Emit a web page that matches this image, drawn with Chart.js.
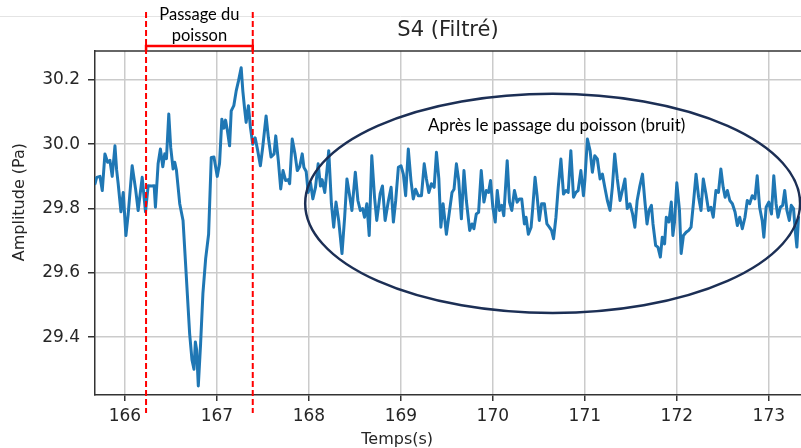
<!DOCTYPE html>
<html>
<head>
<meta charset="utf-8">
<script src="https://cdn.jsdelivr.net/npm/chart.js@4.4.1/dist/chart.umd.min.js"></script>
<style>
  html, body { margin: 0; padding: 0; background: #fff; }
  canvas { display: block; }
</style>
</head>
<body>
<canvas id="s4Chart" width="801" height="448"></canvas>
<script>
const temps = [
  165.675, 165.693, 165.729, 165.754, 165.783, 165.812, 165.837, 165.862, 165.892, 165.91,
  165.927, 165.957, 165.982, 166.011, 166.036, 166.079, 166.116, 166.144, 166.188, 166.224,
  166.253, 166.289, 166.318, 166.332, 166.361, 166.386, 166.412, 166.433, 166.452, 166.477,
  166.498, 166.524, 166.542, 166.56, 166.596, 166.632, 166.668, 166.704, 166.729, 166.751,
  166.766, 166.78, 166.798, 166.823, 166.848, 166.878, 166.91, 166.939, 166.968, 167.004,
  167.029, 167.054, 167.076, 167.094, 167.113, 167.138, 167.156, 167.184, 167.21, 167.235,
  167.264, 167.282, 167.3, 167.318, 167.343, 167.365, 167.39, 167.416, 167.444, 167.473,
  167.498, 167.535, 167.56, 167.589,
  167.622, 167.64, 167.668, 167.694, 167.719, 167.748, 167.776, 167.791, 167.819, 167.849,
  167.874, 167.9, 167.928, 167.946, 167.971, 167.992, 168.018, 168.043, 168.072, 168.101,
  168.126, 168.144, 168.173, 168.198, 168.216, 168.245, 168.27, 168.295, 168.324, 168.36,
  168.389, 168.414, 168.44, 168.468, 168.505, 168.533, 168.559, 168.584, 168.605, 168.63,
  168.656, 168.684, 168.714, 168.738, 168.775, 168.8, 168.829, 168.865, 168.894, 168.919,
  168.944, 168.973, 169.002, 169.027, 169.052, 169.081, 169.11, 169.135, 169.16, 169.189,
  169.224, 169.254, 169.278, 169.304, 169.332, 169.362, 169.387, 169.413, 169.435, 169.459,
  169.495,
  169.556, 169.578, 169.604, 169.629, 169.658, 169.686, 169.712, 169.748, 169.773, 169.794,
  169.82, 169.845, 169.874, 169.903, 169.929, 169.953, 169.975, 170.0, 170.026, 170.048,
  170.073, 170.097, 170.119, 170.156, 170.181, 170.206, 170.235, 170.264, 170.289, 170.314,
  170.343, 170.361, 170.386, 170.416, 170.433, 170.459, 170.481, 170.505, 170.53, 170.56,
  170.588, 170.614, 170.638, 170.66, 170.686, 170.711, 170.74, 170.768, 170.794, 170.819,
  170.848, 170.877, 170.903, 170.927, 170.957, 170.985, 171.0, 171.028, 171.057, 171.082,
  171.108, 171.136, 171.166, 171.191, 171.217, 171.245, 171.274, 171.299, 171.325, 171.353,
  171.383, 171.408,
  171.436, 171.461, 171.49, 171.519, 171.544, 171.569, 171.598, 171.627, 171.652, 171.676,
  171.698, 171.724, 171.741, 171.77, 171.795, 171.821, 171.842, 171.867, 171.886, 171.914,
  171.94, 171.957, 171.975, 172.0, 172.029, 172.047, 172.072, 172.101, 172.129, 172.155,
  172.18, 172.209, 172.237, 172.263, 172.288, 172.317, 172.345, 172.371, 172.396, 172.425,
  172.453, 172.479, 172.504, 172.525, 172.55, 172.576, 172.604, 172.633, 172.658, 172.684,
  172.712, 172.741, 172.766, 172.792, 172.82, 172.849, 172.874, 172.9, 172.928, 172.946,
  172.971, 173.0, 173.029, 173.054, 173.079, 173.1, 173.126, 173.151, 173.173, 173.197,
  173.223, 173.244, 173.269, 173.287, 173.305, 173.323
];
const amplitude = [
  29.877, 29.897, 29.90, 29.856, 29.97, 29.944, 29.95, 29.90, 29.995, 29.92,
  29.877, 29.79, 29.85, 29.716, 29.783, 29.933, 29.861, 29.794, 29.897, 29.79,
  29.871, 29.87, 29.871, 29.804, 29.939, 29.985, 29.93, 29.97, 29.955, 30.094,
  29.99, 29.923, 29.944, 29.92, 29.815, 29.763, 29.587, 29.41, 29.33, 29.30,
  29.385, 29.36, 29.248, 29.38, 29.535, 29.644, 29.72, 29.959, 29.96, 29.90,
  29.94, 30.078, 30.05, 30.075, 30.045, 29.995, 30.104, 30.12, 30.166, 30.197,
  30.238, 30.166, 30.114, 30.068, 30.12, 30.052, 30.0, 30.02, 29.98, 29.933,
  29.99, 30.088, 30.02, 29.96,
  29.97, 30.026, 29.949, 29.861, 29.918, 29.887, 29.89, 29.877, 30.016, 29.97,
  29.918, 29.93, 29.97, 29.928, 29.915, 29.85, 29.88, 29.83, 29.866, 29.939,
  29.87, 29.89, 29.85, 29.923, 29.98, 29.815, 29.742, 29.82, 29.763, 29.66,
  29.773, 29.892, 29.846, 29.794, 29.913, 29.825, 29.794, 29.80, 29.773, 29.815,
  29.716, 29.964, 29.835, 29.763, 29.846, 29.87, 29.763, 29.825, 29.866, 29.758,
  29.825, 29.928, 29.933, 29.907, 29.84, 29.985, 29.887, 29.83, 29.86, 29.84,
  29.84, 29.939, 29.892, 29.85, 29.877, 29.866, 29.975, 29.892, 29.742, 29.815,
  29.72,
  29.85, 29.86, 29.939, 29.887, 29.768, 29.918, 29.825, 29.732, 29.752, 29.737,
  29.783, 29.788, 29.918, 29.82, 29.856, 29.85, 29.887, 29.804, 29.758, 29.856,
  29.794, 29.81, 29.778, 29.949, 29.82, 29.794, 29.856, 29.82, 29.83, 29.83,
  29.752, 29.773, 29.72, 29.742, 29.8, 29.897, 29.84, 29.763, 29.815, 29.815,
  29.752, 29.742, 29.732, 29.706, 29.773, 29.866, 29.954, 29.845, 29.856, 29.85,
  29.98, 29.835, 29.85, 29.856, 29.918, 29.84, 29.887, 30.016, 29.98, 29.913,
  29.964, 29.954, 29.892, 29.907, 29.866, 29.825, 29.794, 29.866, 29.97, 29.892,
  29.825, 29.856,
  29.892, 29.8, 29.815, 29.783, 29.742, 29.825, 29.87, 29.907, 29.825, 29.752,
  29.794, 29.81, 29.752, 29.685, 29.68, 29.649, 29.711, 29.69, 29.773, 29.758,
  29.82, 29.716, 29.758, 29.88, 29.794, 29.66, 29.716, 29.726, 29.732, 29.742,
  29.815, 29.907, 29.835, 29.794, 29.892, 29.845, 29.794, 29.804, 29.773, 29.856,
  29.85, 29.923, 29.866, 29.835, 29.856, 29.825, 29.815, 29.789, 29.747, 29.773,
  29.737, 29.773, 29.825, 29.815, 29.84, 29.83, 29.902, 29.804, 29.763, 29.711,
  29.804, 29.82, 29.783, 29.902, 29.815, 29.773, 29.804, 29.81, 29.856, 29.794,
  29.763, 29.81, 29.8, 29.732, 29.68, 29.773
];
const xTicks = [166, 167, 168, 169, 170, 171, 172, 173];
const yTicks = [29.4, 29.6, 29.8, 30.0, 30.2];

// Zone du passage du poisson (s)
const passageDebut = 166.23;
const passageFin = 167.39;
// Zone de bruit : centre et demi-axes en unités du graphique
const bruitCentre = [170.65, 29.816];
const bruitRayons = [2.69, 0.341];

const tickFont = { family: "'DejaVu Sans', sans-serif", size: 17 };

// Annotations ajoutées par-dessus le graphique
const annotations = {
    id: 'annotations',
    afterDraw(chart) {
        const { ctx, chartArea: a, scales: { x, y } } = chart;
        ctx.save();

        // ligne grise du haut
        ctx.strokeStyle = '#e4e4e4';
        ctx.lineWidth = 1;
        ctx.beginPath();
        ctx.moveTo(0, 16.5);
        ctx.lineTo(chart.width, 16.5);
        ctx.stroke();

        // cadre du haut
        ctx.strokeStyle = '#333';
        ctx.lineWidth = 1.5;
        ctx.beginPath();
        ctx.moveTo(a.left, a.top);
        ctx.lineTo(a.right, a.top);
        ctx.stroke();

        // titre et axes
        ctx.fillStyle = '#262626';
        ctx.textAlign = 'center';
        ctx.textBaseline = 'middle';
        ctx.font = "21px 'DejaVu Sans', sans-serif";
        ctx.fillText('S4 (Filtré)', (a.left + a.right) / 2, a.top - 20);
        ctx.font = "16px 'DejaVu Sans', sans-serif";
        ctx.fillText('Temps(s)', x.getPixelForValue(168.96), 440);
        ctx.save();
        ctx.translate(20, y.getPixelForValue(29.82));
        ctx.rotate(-Math.PI / 2);
        ctx.fillText('Amplitude (Pa)', 0, 0);
        ctx.restore();

        // passage du poisson
        const x1 = x.getPixelForValue(passageDebut);
        const x2 = x.getPixelForValue(passageFin);
        ctx.strokeStyle = '#ff0000';
        ctx.lineWidth = 2;
        ctx.setLineDash([6, 3]);
        [x1, x2].forEach(px => {
            ctx.beginPath();
            ctx.moveTo(px, 12);
            ctx.lineTo(px, 413);
            ctx.stroke();
        });
        ctx.setLineDash([]);
        ctx.lineWidth = 2.5;
        ctx.beginPath();
        ctx.moveTo(x1, a.top);
        ctx.lineTo(x1, a.top - 5);
        ctx.lineTo(x2, a.top - 5);
        ctx.lineTo(x2, a.top);
        ctx.stroke();

        ctx.fillStyle = '#000';
        ctx.font = "16.5px Lato, sans-serif";
        ctx.fillText('Passage du', (x1 + x2) / 2, 15);
        ctx.fillText('poisson', (x1 + x2) / 2, 36);

        // ellipse du bruit
        const cx = x.getPixelForValue(bruitCentre[0]);
        const cy = y.getPixelForValue(bruitCentre[1]);
        const rx = x.getPixelForValue(bruitCentre[0] + bruitRayons[0]) - cx;
        const ry = cy - y.getPixelForValue(bruitCentre[1] + bruitRayons[1]);
        ctx.strokeStyle = '#1c2f55';
        ctx.lineWidth = 2.5;
        ctx.beginPath();
        ctx.ellipse(cx, cy, rx, ry, 0, 0, Math.PI * 2);
        ctx.stroke();

        ctx.font = "17px Lato, sans-serif";
        ctx.fillText('Après le passage du poisson (bruit)', cx + 4, y.getPixelForValue(30.057));
        ctx.restore();
    }
};

const ctx = document.getElementById('s4Chart').getContext('2d');
const s4Chart = new Chart(ctx, {
    type: 'line',
    data: {
        datasets: [{
            label: 'S4',
            data: temps.map((t, i) => ({ x: t, y: amplitude[i] })),
            borderColor: '#1f77b4',
            borderWidth: 3,
            borderJoinStyle: 'round',
            borderCapStyle: 'round',
            pointRadius: 0,
            tension: 0,
            fill: false
        }]
    },
    options: {
        responsive: false,
        animation: false,
        devicePixelRatio: 1,
        layout: { padding: { top: 51, left: 0, right: 0, bottom: 0 } },
        plugins: {
            legend: { display: false },
            tooltip: { enabled: false }
        },
        scales: {
            x: {
                type: 'linear',
                min: 165.675,
                max: 173.35,
                afterBuildTicks: axis => { axis.ticks = xTicks.map(v => ({ value: v })); },
                afterFit: scale => { scale.height = 53; },
                ticks: {
                    font: tickFont,
                    color: '#262626',
                    padding: 5,
                    maxRotation: 0,
                    callback: v => v.toFixed(0)
                },
                grid: { color: '#cbcbcb', lineWidth: 1.5, tickColor: '#333', tickLength: 6, tickWidth: 1.5 },
                border: { color: '#333', width: 1.5 }
            },
            y: {
                min: 29.22,
                max: 30.29,
                afterBuildTicks: axis => { axis.ticks = yTicks.map(v => ({ value: v })); },
                afterFit: scale => { scale.width = 95; },
                ticks: {
                    font: tickFont,
                    color: '#262626',
                    padding: 8,
                    callback: v => v.toFixed(1)
                },
                grid: { color: '#cbcbcb', lineWidth: 1.5, tickColor: '#333', tickLength: 7, tickWidth: 1.5 },
                border: { color: '#333', width: 1.5 }
            }
        }
    },
    plugins: [annotations]
});
</script>
</body>
</html>
